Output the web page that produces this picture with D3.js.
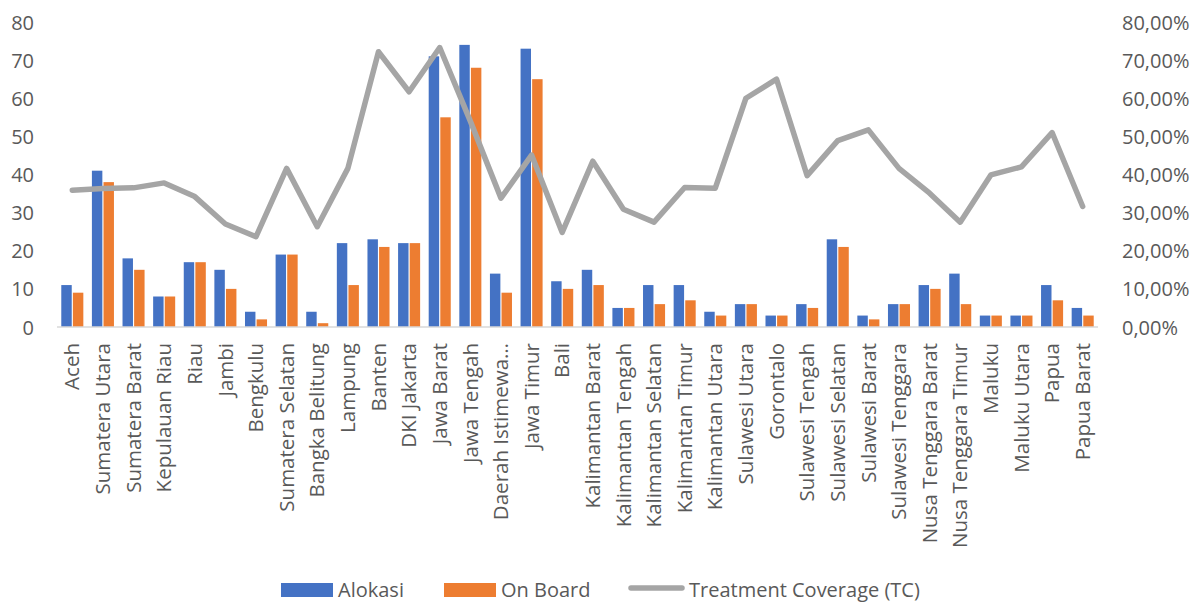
<!DOCTYPE html>
<html>
<head>
<meta charset="utf-8">
<script src="https://cdn.jsdelivr.net/npm/d3@7"></script>
<style>
html,body{margin:0;padding:0;background:#fff;}
svg text{font-family:"Open Sans",sans-serif;fill:#595959;}
</style>
</head>
<body>
<svg id="chart" width="1203" height="603"></svg>
<script>
const categories = ["Aceh","Sumatera Utara","Sumatera Barat","Kepulauan Riau","Riau","Jambi","Bengkulu","Sumatera Selatan","Bangka Belitung","Lampung","Banten","DKI Jakarta","Jawa Barat","Jawa Tengah","Daerah Istimewa…","Jawa Timur","Bali","Kalimantan Barat","Kalimantan Tengah","Kalimantan Selatan","Kalimantan Timur","Kalimantan Utara","Sulawesi Utara","Gorontalo","Sulawesi Tengah","Sulawesi Selatan","Sulawesi Barat","Sulawesi Tenggara","Nusa Tenggara Barat","Nusa Tenggara Timur","Maluku","Maluku Utara","Papua","Papua Barat"];
const alokasi = [11,41,18,8,17,15,4,19,4,22,23,22,71,74,14,73,12,15,5,11,11,4,6,3,6,23,3,6,11,14,3,3,11,5];
const onBoard = [9,38,15,8,17,10,2,19,1,11,21,22,55,68,9,65,10,11,5,6,7,3,6,3,5,21,2,6,10,6,3,3,7,3];
const treatmentCoverage = [0.359,0.363,0.365,0.378,0.342,0.270,0.237,0.416,0.263,0.416,0.722,0.617,0.733,0.540,0.338,0.451,0.248,0.435,0.309,0.275,0.366,0.364,0.600,0.650,0.397,0.489,0.517,0.416,0.351,0.275,0.399,0.420,0.510,0.316];
const leftTicks = [0,10,20,30,40,50,60,70,80];
const rightTicks = [0,0.1,0.2,0.3,0.4,0.5,0.6,0.7,0.8];
const seriesNames = ["Alokasi","On Board","Treatment Coverage (TC)"];
const colors = ["#4472c4","#ed7d31","#a5a5a5"];

const svg = d3.select("#chart");
const x0 = 57, x1 = 1098, yTop = 22, yBot = 327;

const x = d3.scaleBand().domain(categories).range([x0, x1]).paddingInner(0.28).paddingOuter(0.14);
const xs = d3.scaleBand().domain([0,1]).range([0, x.bandwidth()]).paddingInner(0.1);
const y = d3.scaleLinear().domain([0,80]).range([yBot, yTop]);
const y2 = d3.scaleLinear().domain([0,0.8]).range([yBot, yTop]);

// Bars
const seriesData = [alokasi, onBoard];
seriesData.forEach((vals, si) => {
  svg.append("g").selectAll("rect").data(vals).enter().append("rect")
    .attr("x", (d,i) => x(categories[i]) + xs(si))
    .attr("y", d => y(d))
    .attr("width", xs.bandwidth())
    .attr("height", d => y(0) - y(d))
    .attr("fill", colors[si]);
});

// Baseline
svg.append("line").attr("x1", x0).attr("x2", x1).attr("y1", y(0)).attr("y2", y(0))
  .attr("stroke", "#d9d9d9").attr("stroke-width", 1.5);

// Line
const line = d3.line().x((d,i) => x(categories[i]) + x.bandwidth()/2).y(d => y2(d));
svg.append("path").datum(treatmentCoverage).attr("d", line)
  .attr("fill", "none").attr("stroke", colors[2]).attr("stroke-width", 5.5)
  .attr("stroke-linejoin", "round").attr("stroke-linecap", "round");

// Left axis
const leftAxis = d3.axisLeft(y).tickValues(leftTicks).tickSize(0).tickPadding(0);
const gl = svg.append("g").attr("transform", "translate(34,0)").call(leftAxis);
gl.select(".domain").remove();
gl.selectAll("text").style("font-size", "20px").attr("fill", "#595959").attr("dy", "0.35em");

// Right axis
const fmtPct = v => d3.format(".2f")(v*100).replace(".", ",") + "%";
const rightAxis = d3.axisRight(y2).tickValues(rightTicks).tickSize(0).tickPadding(0).tickFormat(fmtPct);
const gr = svg.append("g").attr("transform", "translate(1122,0)").call(rightAxis);
gr.select(".domain").remove();
gr.selectAll("text").style("font-size", "20px").attr("fill", "#595959").attr("dy", "0.35em");

// Category labels
const bottomAxis = d3.axisBottom(x).tickSize(0).tickPadding(0);
const gb = svg.append("g").attr("transform", `translate(0,${yBot})`).call(bottomAxis);
gb.select(".domain").remove();
gb.selectAll("text")
  .style("font-size", "20.5px").attr("fill", "#595959")
  .attr("text-anchor", "end")
  .attr("transform", "rotate(-90)")
  .attr("x", -16).attr("y", 0).attr("dy", "0.35em");

// Legend
const lg = svg.append("g");
const legendItems = [
  {type:"rect", sx:281, tx:338},
  {type:"rect", sx:444, tx:501},
  {type:"line", sx:628, tx:689}
];
const ly = 590;
legendItems.forEach((it, i) => {
  if (it.type === "rect") {
    lg.append("rect").attr("x", it.sx).attr("y", ly-7).attr("width", 52).attr("height", 14).attr("fill", colors[i]);
  } else {
    lg.append("line").attr("x1", it.sx+3).attr("x2", it.sx+54).attr("y1", ly-2).attr("y2", ly-2)
      .attr("stroke", colors[i]).attr("stroke-width", 5.5).attr("stroke-linecap", "round");
  }
  lg.append("text").attr("x", it.tx).attr("y", ly).attr("dy", "0.35em")
    .style("font-size", "20px").text(seriesNames[i]);
});
</script>
</body>
</html>
